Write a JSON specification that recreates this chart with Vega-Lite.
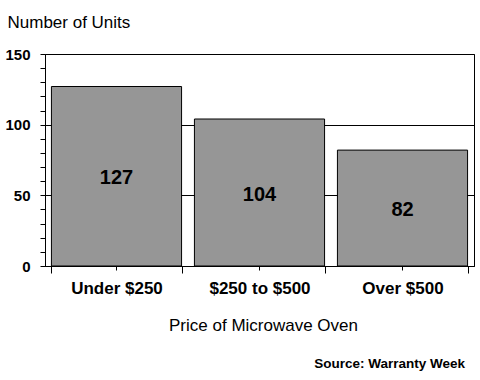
{
  "$schema": "https://vega.github.io/schema/vega-lite/v6.json",
  "width": 429,
  "height": 212,
  "autosize": "none",
  "padding": {"left": 45, "top": 54, "right": 6, "bottom": 114},
  "background": "white",
  "config": {
    "view": {"stroke": "black", "strokeWidth": 1},
    "font": "Liberation Sans",
    "axisY": {
      "titleAngle": 0,
      "titleAlign": "left",
      "titleBaseline": "alphabetic",
      "titleX": -38,
      "titleY": -27,
      "titleFontSize": 17,
      "titleFontWeight": "normal",
      "titleColor": "black",
      "labelOverlap": false,
      "labelBound": false,
      "labelFontSize": 15,
      "labelFontWeight": "bold",
      "labelColor": "black",
      "labelPadding": 10,
      "tickSize": 5,
      "tickColor": "black",
      "domainColor": "black",
      "gridColor": "black"
    }
  },
  "title": {
    "text": "Source: Warranty Week",
    "orient": "bottom",
    "anchor": "end",
    "frame": "group",
    "fontSize": 13.5,
    "fontWeight": "bold",
    "color": "black",
    "font": "Liberation Sans",
    "baseline": "alphabetic",
    "dx": -9,
    "offset": 35
  },
  "data": {
    "values": [
      {"category": "Under $250", "value": 127},
      {"category": "$250 to $500", "value": 104},
      {"category": "Over $500", "value": 82}
    ]
  },
  "resolve": {"axis": {"x": "independent"}},
  "layer": [
    {
      "mark": {"type": "bar", "fill": "#969696", "stroke": "black", "strokeWidth": 1},
      "encoding": {
        "x": {
          "field": "category",
          "type": "nominal",
          "sort": null,
          "scale": {"paddingInner": 0.09, "paddingOuter": 0.045},
          "axis": {
            "orient": "bottom",
            "title": "Price of Microwave Oven",
            "titleFontSize": 17,
            "titleFontWeight": "normal",
            "titleColor": "black",
            "titleBaseline": "alphabetic",
            "titleY": 64,
            "titleX": 218,
            "labelAngle": 0,
            "labelFontSize": 17,
            "labelFontWeight": "bold",
            "labelColor": "black",
            "labelBaseline": "alphabetic",
            "labelPadding": 20,
            "tickSize": 7,
            "tickBand": "extent",
            "tickColor": "black",
            "domainColor": "black",
            "grid": false
          }
        },
        "y": {
          "field": "value",
          "type": "quantitative",
          "scale": {"domain": [0, 150], "nice": false},
          "axis": {
            "title": "Number of Units",
            "values": [0, 10, 20, 30, 40, 50, 60, 70, 80, 90, 100, 110, 120, 130, 140, 150],
            "labelExpr": "datum.value % 50 === 0 ? datum.label : ''",
            "grid": true,
            "gridOpacity": {"condition": {"test": "datum.value % 50 === 0", "value": 1}, "value": 0}
          }
        }
      }
    },
    {
      "transform": [{"calculate": "datum.value / 2", "as": "mid"}],
      "mark": {"type": "text", "fontSize": 20, "fontWeight": "bold", "color": "black", "baseline": "middle", "dy": 2},
      "encoding": {
        "x": {
          "field": "category",
          "type": "nominal",
          "sort": null,
          "axis": {
            "orient": "bottom",
            "title": null,
            "labels": false,
            "domain": false,
            "grid": false,
            "tickSize": 4,
            "tickBand": "center",
            "tickColor": "black"
          }
        },
        "y": {
          "field": "mid",
          "type": "quantitative",
          "axis": {
            "title": "Number of Units",
            "values": [0, 10, 20, 30, 40, 50, 60, 70, 80, 90, 100, 110, 120, 130, 140, 150],
            "labelExpr": "datum.value % 50 === 0 ? datum.label : ''",
            "grid": true,
            "gridOpacity": {"condition": {"test": "datum.value % 50 === 0", "value": 1}, "value": 0}
          }
        },
        "text": {"field": "value", "type": "quantitative"}
      }
    }
  ]
}
